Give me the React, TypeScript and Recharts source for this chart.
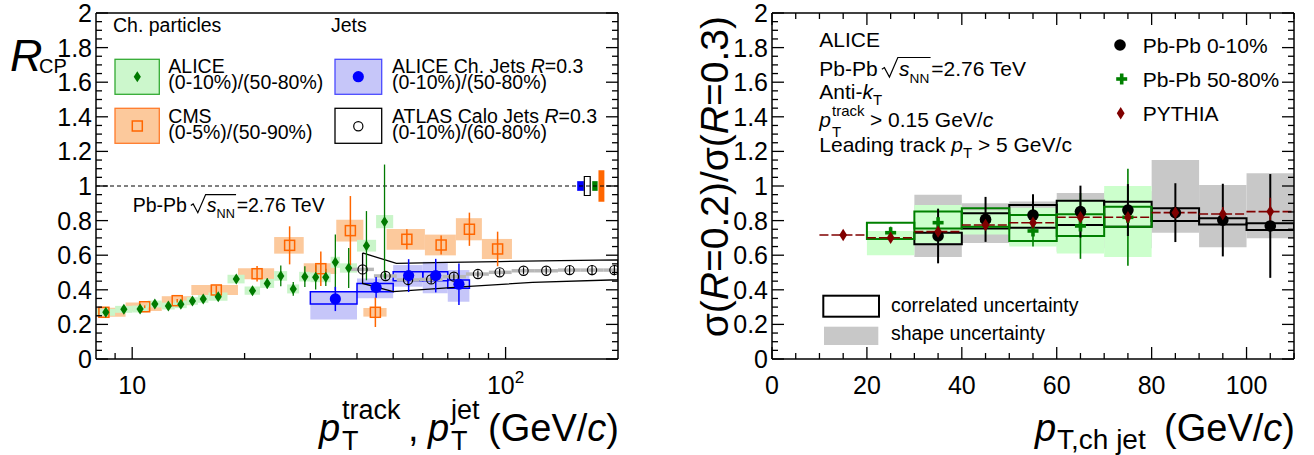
import React from 'react';
import {
  ComposedChart,
  Scatter,
  Line,
  XAxis,
  YAxis,
  ErrorBar,
  ReferenceArea,
  ReferenceLine,
} from 'recharts';

const FONT = "'Liberation Sans', Arial, Helvetica, sans-serif";

// ---------------- Left panel data ----------------
// ALICE charged particles RCP (0-10%)/(50-80%)
const aliceCh = [
  { x: 8.5, y: 0.27, ey: 0.005, xlo: 8, xhi: 9, sys: 0.02 },
  { x: 9.5, y: 0.287, ey: 0.005, xlo: 9, xhi: 10, sys: 0.02 },
  { x: 10.5, y: 0.289, ey: 0.006, xlo: 10, xhi: 11, sys: 0.02 },
  { x: 11.5, y: 0.318, ey: 0.007, xlo: 11, xhi: 12, sys: 0.02 },
  { x: 12.5, y: 0.306, ey: 0.008, xlo: 12, xhi: 13, sys: 0.02 },
  { x: 13.5, y: 0.316, ey: 0.008, xlo: 13, xhi: 14, sys: 0.022 },
  { x: 14.5, y: 0.335, ey: 0.01, xlo: 14, xhi: 15, sys: 0.022 },
  { x: 15.5, y: 0.347, ey: 0.01, xlo: 15, xhi: 16, sys: 0.022 },
  { x: 17, y: 0.36, ey: 0.012, xlo: 16, xhi: 18, sys: 0.024 },
  { x: 19, y: 0.462, ey: 0.015, xlo: 18, xhi: 20, sys: 0.025 },
  { x: 21, y: 0.395, ey: 0.015, xlo: 20, xhi: 22, sys: 0.024 },
  { x: 23, y: 0.437, ey: 0.03, xlo: 22, xhi: 24, sys: 0.026 },
  { x: 25, y: 0.48, ey: 0.06, xlo: 24, xhi: 26, sys: 0.028 },
  { x: 27, y: 0.405, ey: 0.04, xlo: 26, xhi: 28, sys: 0.026 },
  { x: 29, y: 0.476, ey: 0.06, xlo: 28, xhi: 30, sys: 0.028 },
  { x: 31, y: 0.472, ey: 0.07, xlo: 30, xhi: 32, sys: 0.028 },
  { x: 33, y: 0.472, ey: 0.05, xlo: 32, xhi: 34, sys: 0.028 },
  { x: 35, y: 0.559, ey: 0.16, xlo: 34, xhi: 36, sys: 0.032 },
  { x: 38, y: 0.526, ey: 0.115, xlo: 36, xhi: 40, sys: 0.027 },
  { x: 42.4, y: 0.655, ey: 0.2, xlo: 40, xhi: 45, sys: 0.034 },
  { x: 47.4, y: 0.794, ey: 0.33, xlo: 45, xhi: 50, sys: 0.038 },
];

// CMS charged particles RCP (0-5%)/(50-90%)
const cmsCh = [
  { x: 8.4, y: 0.27, ey: 0.008, xlo: 7.2, xhi: 9.6, sys: 0.026 },
  { x: 10.8, y: 0.302, ey: 0.008, xlo: 9.6, xhi: 12, sys: 0.025 },
  { x: 13.2, y: 0.337, ey: 0.01, xlo: 12, xhi: 14.4, sys: 0.026 },
  { x: 16.8, y: 0.399, ey: 0.025, xlo: 14.4, xhi: 19.2, sys: 0.029 },
  { x: 21.6, y: 0.493, ey: 0.045, xlo: 19.2, xhi: 24, sys: 0.032 },
  { x: 26.4, y: 0.657, ey: 0.11, xlo: 24, xhi: 28.8, sys: 0.048 },
  { x: 32, y: 0.522, ey: 0.1, xlo: 28.8, xhi: 35.2, sys: 0.031 },
  { x: 38.4, y: 0.742, ey: 0.2, xlo: 35.2, xhi: 41.6, sys: 0.063 },
  { x: 44.8, y: 0.27, ey: 0.085, xlo: 41.6, xhi: 48, sys: 0.025 },
  { x: 54.4, y: 0.692, ey: 0.058, xlo: 48, xhi: 60.8, sys: 0.06 },
  { x: 67.2, y: 0.659, ey: 0.055, xlo: 60.8, xhi: 73.6, sys: 0.06 },
  { x: 80, y: 0.75, ey: 0.096, xlo: 73.6, xhi: 86.4, sys: 0.064 },
  { x: 95.2, y: 0.636, ey: 0.1, xlo: 86.4, xhi: 104, sys: 0.058 },
];

// ALICE charged jets R=0.3 (0-10%)/(50-80%)
const aliceJets = [
  { x: 35, y: 0.347, ey: 0.07, xlo: 30, xhi: 40, cLo: 0.318, cHi: 0.389, sLo: 0.229, sHi: 0.389 },
  { x: 45, y: 0.414, ey: 0.06, xlo: 40, xhi: 50, cLo: 0.389, cHi: 0.437, sLo: 0.351, sHi: 0.466 },
  { x: 55, y: 0.482, ey: 0.095, xlo: 50, xhi: 60, cLo: 0.453, cHi: 0.505, sLo: 0.418, sHi: 0.543 },
  { x: 65, y: 0.482, ey: 0.097, xlo: 60, xhi: 70, cLo: 0.453, cHi: 0.505, sLo: 0.38, sHi: 0.562 },
  { x: 75, y: 0.432, ey: 0.12, xlo: 70, xhi: 80, cLo: 0.409, cHi: 0.457, sLo: 0.331, sHi: 0.514 },
];

// ATLAS calo jets R=0.3 (0-10%)/(60-80%)
const atlasJets = [
  { x: 41.4, y: 0.518, ey: 0.015, xlo: 38.4, xhi: 44.4, sys: 0.01 },
  { x: 47.7, y: 0.48, ey: 0.02, xlo: 44.4, xhi: 51.1, sys: 0.01 },
  { x: 54.8, y: 0.457, ey: 0.03, xlo: 51.1, xhi: 58.8, sys: 0.01 },
  { x: 63.2, y: 0.46, ey: 0.025, xlo: 58.8, xhi: 67.8, sys: 0.01 },
  { x: 72.7, y: 0.476, ey: 0.02, xlo: 67.8, xhi: 78.3, sys: 0.01 },
  { x: 84.3, y: 0.491, ey: 0.02, xlo: 78.3, xhi: 90.2, sys: 0.01 },
  { x: 96.4, y: 0.501, ey: 0.02, xlo: 90.2, xhi: 103.8, sys: 0.01 },
  { x: 111.7, y: 0.51, ey: 0.02, xlo: 103.8, xhi: 119.8, sys: 0.01 },
  { x: 128.5, y: 0.51, ey: 0.02, xlo: 119.8, xhi: 138.1, sys: 0.01 },
  { x: 148.4, y: 0.514, ey: 0.025, xlo: 138.1, xhi: 159, sys: 0.01 },
  { x: 170.4, y: 0.514, ey: 0.03, xlo: 159, xhi: 182.6, sys: 0.01 },
  { x: 195.6, y: 0.514, ey: 0.03, xlo: 182.6, xhi: 205, sys: 0.01 },
];

// ATLAS systematic envelope (upper edge left->right, lower edge right->left)
const atlasBand = [
  { x: 41.4, y: 0.613 },
  { x: 51, y: 0.553 },
  { x: 70, y: 0.558 },
  { x: 96, y: 0.563 },
  { x: 140, y: 0.569 },
  { x: 200, y: 0.573 },
  { x: 200, y: 0.458 },
  { x: 118, y: 0.443 },
  { x: 78, y: 0.418 },
  { x: 50, y: 0.389 },
  { x: 41.4, y: 0.437 },
  { x: 41.4, y: 0.613 },
];

// normalisation uncertainties at unity
const normBoxes = [
  { x1: 155.5, x2: 162, y1: 0.972, y2: 1.028 },
  { x1: 162.5, x2: 168.5, y1: 0.945, y2: 1.055 },
  { x1: 170.6, x2: 176.4, y1: 0.972, y2: 1.028 },
  { x1: 177.3, x2: 183.9, y1: 0.909, y2: 1.091 },
];
const normFill = ['#0000ff', '#ffffff', '#008000', '#ff6600'];
const normStroke = ['none', '#000000', 'none', 'none'];

const logTicks = [9, 10, 20, 30, 40, 50, 60, 70, 80, 90, 100];

// ---------------- Right panel data ----------------
const pythia = [
  { x: 15, y: 0.717, ey: 0.01 },
  { x: 25, y: 0.701, ey: 0.01 },
  { x: 35, y: 0.736, ey: 0.012 },
  { x: 45, y: 0.775, ey: 0.015 },
  { x: 55, y: 0.788, ey: 0.015 },
  { x: 65, y: 0.819, ey: 0.02 },
  { x: 75, y: 0.819, ey: 0.02 },
  { x: 85, y: 0.846, ey: 0.03 },
  { x: 95, y: 0.838, ey: 0.04 },
  { x: 105, y: 0.852, ey: 0.08 },
];
const central = [
  { x: 35, y: 0.711, ey: 0.158 },
  { x: 45, y: 0.807, ey: 0.13 },
  { x: 55, y: 0.832, ey: 0.12 },
  { x: 65, y: 0.852, ey: 0.15 },
  { x: 75, y: 0.861, ey: 0.15 },
  { x: 85, y: 0.846, ey: 0.17 },
  { x: 95, y: 0.803, ey: 0.21 },
  { x: 105, y: 0.769, ey: 0.3 },
];
const peripheral = [
  { x: 25, y: 0.73, ey: 0.035 },
  { x: 35, y: 0.788, ey: 0.04 },
  { x: 45, y: 0.8, ey: 0.04 },
  { x: 55, y: 0.74, ey: 0.09 },
  { x: 65, y: 0.769, ey: 0.19 },
  { x: 75, y: 0.819, ey: 0.28 },
];
const centralShape = [
  { x1: 30, x2: 40, lo: 0.59, hi: 0.95 },
  { x1: 40, x2: 50, lo: 0.67, hi: 0.9 },
  { x1: 50, x2: 60, lo: 0.66, hi: 0.91 },
  { x1: 60, x2: 70, lo: 0.62, hi: 0.96 },
  { x1: 70, x2: 80, lo: 0.64, hi: 0.97 },
  { x1: 80, x2: 90, lo: 0.73, hi: 1.15 },
  { x1: 90, x2: 100, lo: 0.646, hi: 1.006 },
  { x1: 100, x2: 110, lo: 0.698, hi: 1.073 },
];
const periphShape = [
  { x1: 20, x2: 30, lo: 0.6, hi: 0.74 },
  { x1: 30, x2: 40, lo: 0.67, hi: 0.89 },
  { x1: 40, x2: 50, lo: 0.72, hi: 0.86 },
  { x1: 50, x2: 60, lo: 0.65, hi: 0.875 },
  { x1: 60, x2: 70, lo: 0.61, hi: 0.92 },
  { x1: 70, x2: 80, lo: 0.59, hi: 1.0 },
];
const centralCorr = [
  { x1: 30, x2: 40, lo: 0.663, hi: 0.73 },
  { x1: 40, x2: 50, lo: 0.755, hi: 0.842 },
  { x1: 50, x2: 60, lo: 0.759, hi: 0.89 },
  { x1: 60, x2: 70, lo: 0.775, hi: 0.915 },
  { x1: 70, x2: 80, lo: 0.765, hi: 0.909 },
  { x1: 80, x2: 90, lo: 0.798, hi: 0.871 },
  { x1: 90, x2: 100, lo: 0.778, hi: 0.813 },
  { x1: 100, x2: 110, lo: 0.746, hi: 0.784 },
];
const periphCorr = [
  { x1: 20, x2: 30, lo: 0.694, hi: 0.788 },
  { x1: 30, x2: 40, lo: 0.755, hi: 0.852 },
  { x1: 40, x2: 50, lo: 0.765, hi: 0.871 },
  { x1: 50, x2: 60, lo: 0.682, hi: 0.832 },
  { x1: 60, x2: 70, lo: 0.711, hi: 0.836 },
  { x1: 70, x2: 80, lo: 0.765, hi: 0.88 },
];
const linTicks = [0, 5, 10, 15, 20, 25, 30, 35, 40, 45, 50, 55, 60, 65, 70, 75, 80, 85, 90, 95, 100, 105, 110];
const linLabels = [0, 20, 40, 60, 80, 100];

const yTicks = Array.from({ length: 41 }, (_, i) => Math.round(i * 5) / 100);

// ---------------- helpers ----------------
const isMult = (v: number, step: number) => {
  const r = v / step;
  return Math.abs(r - Math.round(r)) < 1e-6;
};
const fmtY = (v: number) => String(Math.round(v * 10) / 10);

const makeYTick = (side: 'left' | 'right', labels: boolean) => (props: any) => {
  const { x, y, payload } = props;
  const v = payload.value as number;
  const major = isMult(v, 0.2);
  const len = major ? 12 : 6;
  const dir = side === 'left' ? 1 : -1;
  return (
    <g>
      <line x1={x} y1={y} x2={x + dir * len} y2={y} stroke="#000" strokeWidth={1.3} />
      {labels && major && (
        <text x={x - 4} y={y} dy={9} textAnchor="end" fontSize={25} fontFamily={FONT} fill="#000">
          {fmtY(v)}
        </text>
      )}
    </g>
  );
};

const LogXTick = (props: any) => {
  const { x, y, payload } = props;
  const v = payload.value as number;
  const major = v === 10 || v === 100;
  return (
    <g>
      <line x1={x} y1={y} x2={x} y2={y - (major ? 12 : 6)} stroke="#000" strokeWidth={1.3} />
      {v === 10 && (
        <text x={x} y={y + 35} textAnchor="middle" fontSize={25} fontFamily={FONT} fill="#000">
          10
        </text>
      )}
      {v === 100 && (
        <text x={x} y={y + 35} textAnchor="middle" fontSize={25} fontFamily={FONT} fill="#000">
          10<tspan dy={-11} fontSize={17}>2</tspan>
        </text>
      )}
    </g>
  );
};

const makeLinXTick = (side: 'bottom' | 'top', labels: boolean) => (props: any) => {
  const { x, y, payload } = props;
  const v = payload.value as number;
  const major = isMult(v, 20);
  const len = major ? 12 : 6;
  const dir = side === 'bottom' ? -1 : 1;
  return (
    <g>
      <line x1={x} y1={y} x2={x} y2={y + dir * len} stroke="#000" strokeWidth={1.3} />
      {labels && linLabels.indexOf(v) >= 0 && (
        <text x={x} y={y + 35} textAnchor="middle" fontSize={25} fontFamily={FONT} fill="#000">
          {v}
        </text>
      )}
    </g>
  );
};

// marker shapes
const diamondPath = (cx: number, cy: number, w: number, h: number) =>
  `M${cx},${cy - h}L${cx + w},${cy}L${cx},${cy + h}L${cx - w},${cy}Z`;

const GreenDiamond = (p: any) => <path d={diamondPath(p.cx, p.cy, 3.6, 5.5)} fill="#007a00" />;
const OrangeSquare = (p: any) => (
  <rect x={p.cx - 5} y={p.cy - 5} width={10} height={10} fill="none" stroke="#ff6600" strokeWidth={1.5} />
);
const BlueCircle = (p: any) => <circle cx={p.cx} cy={p.cy} r={5.6} fill="#0000ff" />;
const OpenCircle = (p: any) => <circle cx={p.cx} cy={p.cy} r={4.6} fill="none" stroke="#000" strokeWidth={1.2} />;
const BlackDot = (p: any) => <circle cx={p.cx} cy={p.cy} r={5.8} fill="#000" />;
const GreenPlus = (p: any) => (
  <g>
    <line x1={p.cx - 5.5} y1={p.cy} x2={p.cx + 5.5} y2={p.cy} stroke="#008000" strokeWidth={3.6} />
    <line x1={p.cx} y1={p.cy - 5.5} x2={p.cx} y2={p.cy + 5.5} stroke="#008000" strokeWidth={3.6} />
  </g>
);
const RedDiamond = (p: any) => <path d={diamondPath(p.cx, p.cy, 3.9, 6.2)} fill="#800000" />;

const xErr = (d: any) => [d.x - d.xlo, d.xhi - d.x];

const frameLine = { stroke: '#000', strokeWidth: 1.5 };

const LeftChart = () => (
  <ComposedChart width={640} height={455} margin={{ top: 12, right: 21, bottom: 95, left: 95 }}>
    <XAxis
      xAxisId={0}
      dataKey="x"
      type="number"
      scale="log"
      domain={[8, 200]}
      allowDataOverflow
      ticks={logTicks}
      interval={0}
      tickSize={0}
      tickMargin={0}
      tickLine={false}
      axisLine={frameLine}
      tick={LogXTick}
      height={1}
    />
    <XAxis
      xAxisId="t"
      orientation="top"
      dataKey="x"
      type="number"
      scale="log"
      domain={[8, 200]}
      allowDataOverflow
      tick={false}
      tickLine={false}
      axisLine={frameLine}
      height={1}
    />
    <YAxis
      yAxisId={0}
      dataKey="y"
      type="number"
      domain={[0, 2]}
      allowDataOverflow
      ticks={yTicks}
      interval={0}
      tickSize={0}
      tickMargin={0}
      tickLine={false}
      axisLine={frameLine}
      tick={makeYTick('left', true)}
      width={1}
    />
    <YAxis
      yAxisId="r"
      orientation="right"
      type="number"
      domain={[0, 2]}
      allowDataOverflow
      ticks={yTicks}
      interval={0}
      tickSize={0}
      tickMargin={0}
      tickLine={false}
      axisLine={frameLine}
      tick={makeYTick('right', false)}
      width={1}
    />

    {cmsCh.map((d, i) => (
      <ReferenceArea key={'cb' + i} x1={d.xlo} x2={d.xhi} y1={d.y - d.sys} y2={d.y + d.sys}
        fill="#fcc99c" fillOpacity={1} stroke="none" ifOverflow="hidden" />
    ))}
    {aliceCh.map((d, i) => (
      <ReferenceArea key={'ab' + i} x1={d.xlo} x2={d.xhi} y1={d.y - d.sys} y2={d.y + d.sys}
        fill="#c9f5c9" fillOpacity={1} stroke="none" ifOverflow="hidden" />
    ))}
    {aliceJets.map((d, i) => (
      <ReferenceArea key={'js' + i} x1={d.xlo} x2={d.xhi} y1={d.sLo} y2={d.sHi}
        fill="#c6c6f9" fillOpacity={1} stroke="none" ifOverflow="hidden" />
    ))}
    {aliceJets.map((d, i) => (
      <ReferenceArea key={'jc' + i} x1={d.xlo} x2={d.xhi} y1={d.cLo} y2={d.cHi}
        fill="none" fillOpacity={0} stroke="#0000ff" strokeWidth={1.5} ifOverflow="hidden" />
    ))}
    {atlasJets.map((d, i) => (
      <ReferenceArea key={'as' + i} x1={d.xlo} x2={d.xhi} y1={d.y - d.sys} y2={d.y + d.sys}
        fill="#b8b8b8" fillOpacity={1} stroke="none" ifOverflow="hidden" />
    ))}
    {normBoxes.map((d, i) => (
      <ReferenceArea key={'nb' + i} x1={d.x1} x2={d.x2} y1={d.y1} y2={d.y2}
        fill={normFill[i]} fillOpacity={1} stroke={normStroke[i]} strokeWidth={1.2} ifOverflow="hidden" />
    ))}
    <ReferenceLine y={1} stroke="#000" strokeWidth={1} strokeDasharray="4 3" />

    <Line data={atlasBand} dataKey="y" type="linear" stroke="#000" strokeWidth={1.3} dot={false} activeDot={false} isAnimationActive={false} />

    <Scatter data={atlasJets} dataKey="y" shape={OpenCircle} isAnimationActive={false}>
      <ErrorBar dataKey="ey" direction="y" width={0} stroke="#000" strokeWidth={1.2} />
    </Scatter>
    <Scatter data={cmsCh} dataKey="y" shape={OrangeSquare} isAnimationActive={false}>
      <ErrorBar dataKey={xErr} direction="x" width={0} stroke="#ff6600" strokeWidth={1.5} />
      <ErrorBar dataKey="ey" direction="y" width={0} stroke="#ff6600" strokeWidth={1.5} />
    </Scatter>
    <Scatter data={aliceCh} dataKey="y" shape={GreenDiamond} isAnimationActive={false}>
      <ErrorBar dataKey={xErr} direction="x" width={0} stroke="#007a00" strokeWidth={1.2} strokeDasharray="3 3" />
      <ErrorBar dataKey="ey" direction="y" width={0} stroke="#007a00" strokeWidth={1.3} />
    </Scatter>
    <Scatter data={aliceJets} dataKey="y" shape={BlueCircle} isAnimationActive={false}>
      <ErrorBar dataKey="ey" direction="y" width={0} stroke="#0000ff" strokeWidth={1.5} />
    </Scatter>
  </ComposedChart>
);

const RightChart = () => (
  <ComposedChart width={674} height={455} margin={{ top: 12, right: 19, bottom: 95, left: 131 }}>
    <XAxis
      xAxisId={0}
      dataKey="x"
      type="number"
      domain={[0, 110]}
      allowDataOverflow
      ticks={linTicks}
      interval={0}
      tickSize={0}
      tickMargin={0}
      tickLine={false}
      axisLine={frameLine}
      tick={makeLinXTick('bottom', true)}
      height={1}
    />
    <XAxis
      xAxisId="t"
      orientation="top"
      dataKey="x"
      type="number"
      domain={[0, 110]}
      allowDataOverflow
      ticks={linTicks}
      interval={0}
      tickSize={0}
      tickMargin={0}
      tickLine={false}
      axisLine={frameLine}
      tick={makeLinXTick('top', false)}
      height={1}
    />
    <YAxis
      yAxisId={0}
      dataKey="y"
      type="number"
      domain={[0, 2]}
      allowDataOverflow
      ticks={yTicks}
      interval={0}
      tickSize={0}
      tickMargin={0}
      tickLine={false}
      axisLine={frameLine}
      tick={makeYTick('left', true)}
      width={1}
    />
    <YAxis
      yAxisId="r"
      orientation="right"
      type="number"
      domain={[0, 2]}
      allowDataOverflow
      ticks={yTicks}
      interval={0}
      tickSize={0}
      tickMargin={0}
      tickLine={false}
      axisLine={frameLine}
      tick={makeYTick('right', false)}
      width={1}
    />

    {centralShape.map((d, i) => (
      <ReferenceArea key={'gs' + i} x1={d.x1} x2={d.x2} y1={d.lo} y2={d.hi}
        fill="#c8c8c8" fillOpacity={1} stroke="none" ifOverflow="hidden" />
    ))}
    {periphShape.map((d, i) => (
      <ReferenceArea key={'ps' + i} x1={d.x1} x2={d.x2} y1={d.lo} y2={d.hi}
        fill="#ccffcc" fillOpacity={1} stroke="none" ifOverflow="hidden" />
    ))}
    {centralCorr.map((d, i) => (
      <ReferenceArea key={'cc' + i} x1={d.x1} x2={d.x2} y1={d.lo} y2={d.hi}
        fill="none" fillOpacity={0} stroke="#000" strokeWidth={2} ifOverflow="hidden" />
    ))}
    {periphCorr.map((d, i) => (
      <ReferenceArea key={'pc' + i} x1={d.x1} x2={d.x2} y1={d.lo} y2={d.hi}
        fill="none" fillOpacity={0} stroke="#008000" strokeWidth={2} ifOverflow="hidden" />
    ))}

    <Scatter data={peripheral} dataKey="y" shape={GreenPlus} isAnimationActive={false}>
      <ErrorBar dataKey="ey" direction="y" width={0} stroke="#008000" strokeWidth={1.6} />
    </Scatter>
    <Scatter data={central} dataKey="y" shape={BlackDot} isAnimationActive={false}>
      <ErrorBar dataKey="ey" direction="y" width={0} stroke="#000" strokeWidth={2} />
    </Scatter>
    <Scatter data={pythia} dataKey="y" shape={RedDiamond} isAnimationActive={false}>
      <ErrorBar dataKey={() => 5} direction="x" width={0} stroke="#800000" strokeWidth={1.6} strokeDasharray="9 3" />
      <ErrorBar dataKey="ey" direction="y" width={0} stroke="#800000" strokeWidth={1.6} />
    </Scatter>
  </ComposedChart>
);

const PbPb = ({ x, y, fs }: { x: number; y: number; fs: number }) => {
  const e = fs;
  const rx = x + 2.98 * e;
  return (
    <g fontFamily={FONT} fill="#000">
      <text x={x} y={y} fontSize={fs}>Pb-Pb</text>
      <path
        d={`M${rx},${y - 0.32 * e} L${rx + 0.12 * e},${y - 0.4 * e} L${rx + 0.36 * e},${y + 0.05 * e} L${rx + 0.76 * e},${y - 0.88 * e} L${x + 5.3 * e},${y - 0.88 * e}`}
        fill="none"
        stroke="#000"
        strokeWidth={1.2}
      />
      <text x={x + 3.8 * e} y={y} fontSize={fs} fontStyle="italic">s</text>
      <text x={x + 4.3 * e} y={y + 0.32 * e} fontSize={0.65 * fs}>NN</text>
      <text x={x + 5.33 * e} y={y} fontSize={fs}>=2.76 TeV</text>
    </g>
  );
};

const Overlay = () => (
  <svg width={1314} height={455} style={{ position: 'absolute', left: 0, top: 0, pointerEvents: 'none' }}>
    <g fontFamily={FONT} fill="#000">
      {/* ---- left panel ---- */}
      <text x={10} y={71} fontSize={45} fontStyle="italic">R</text>
      <text x={39} y={73} fontSize={20}>CP</text>

      <text x={113} y={32} fontSize={19.5}>Ch. particles</text>
      <text x={331} y={32} fontSize={19.5}>Jets</text>

      <rect x={115} y={59.3} width={44.3} height={35} fill="#ccf7cc" stroke="#33aa33" strokeWidth={1.3} />
      <path d={diamondPath(137.3, 76.7, 3.6, 5.5)} fill="#007a00" />
      <text x={168.3} y={72.7} fontSize={19.5}>ALICE</text>
      <text x={168.3} y={89.3} fontSize={19.5}>(0-10%)/(50-80%)</text>

      <rect x={115} y={108.3} width={44.3} height={35} fill="#fcc99c" stroke="#ff7a2a" strokeWidth={1.3} />
      <rect x={132.3} y={121} width={10} height={10} fill="none" stroke="#ff6600" strokeWidth={1.5} />
      <text x={168.3} y={122.7} fontSize={19.5}>CMS</text>
      <text x={168.3} y={139.3} fontSize={19.5}>(0-5%)/(50-90%)</text>

      <rect x={335} y={59.3} width={46.7} height={35} fill="#c6c6f9" stroke="#4a4aff" strokeWidth={1.3} />
      <circle cx={358.3} cy={76.7} r={5.6} fill="#0000ff" />
      <text x={392} y={72.7} fontSize={19.5}>
        ALICE Ch. Jets <tspan fontStyle="italic">R</tspan>=0.3
      </text>
      <text x={392} y={89.3} fontSize={19.5}>(0-10%)/(50-80%)</text>

      <rect x={335} y={108.3} width={46.7} height={35} fill="#fff" stroke="#000" strokeWidth={1.3} />
      <circle cx={358.3} cy={126.3} r={4.6} fill="none" stroke="#000" strokeWidth={1.2} />
      <text x={392} y={122.7} fontSize={19.5}>
        ATLAS Calo Jets <tspan fontStyle="italic">R</tspan>=0.3
      </text>
      <text x={392} y={139.3} fontSize={19.5}>(0-10%)/(60-80%)</text>

      <PbPb x={132.7} y={211.7} fs={19.5} />

      <text x={319} y={441} fontSize={38} fontStyle="italic">p</text>
      <text x={342} y={450} fontSize={27}>T</text>
      <text x={342} y={419} fontSize={27}>track</text>
      <text x={408} y={441} fontSize={38}>,</text>
      <text x={428} y={441} fontSize={38} fontStyle="italic">p</text>
      <text x={451} y={450} fontSize={27}>T</text>
      <text x={451} y={419} fontSize={27}>jet</text>
      <text x={619} y={441} fontSize={38} textAnchor="end">
        (GeV/<tspan fontStyle="italic">c</tspan>)
      </text>

      {/* ---- right panel ---- */}
      <text transform="translate(728,16) rotate(-90)" textAnchor="end" fontSize={39}>
        σ(<tspan fontStyle="italic">R</tspan>=0.2)/σ(<tspan fontStyle="italic">R</tspan>=0.3)
      </text>

      <text x={819.3} y={47.3} fontSize={21}>ALICE</text>
      <PbPb x={819.3} y={76} fs={21} />
      <text x={819.3} y={99.3} fontSize={21}>
        Anti-<tspan fontStyle="italic">k</tspan>
        <tspan dy={6} fontSize={15}>T</tspan>
      </text>
      <text x={819.3} y={126.7} fontSize={21} fontStyle="italic">p</text>
      <text x={832} y={137} fontSize={15}>T</text>
      <text x={832} y={116} fontSize={15}>track</text>
      <text x={870} y={126.7} fontSize={21}>
        &gt; 0.15 GeV/<tspan fontStyle="italic">c</tspan>
      </text>
      <text x={819.3} y={151.7} fontSize={21}>
        Leading track <tspan fontStyle="italic">p</tspan>
        <tspan dy={6} fontSize={15}>T</tspan>
        <tspan dy={-6}> &gt; 5 GeV/c</tspan>
      </text>

      <circle cx={1120} cy={45} r={5.8} fill="#000" />
      <text x={1142.7} y={53.3} fontSize={21}>Pb-Pb 0-10%</text>
      <line x1={1116.2} y1={79} x2={1127.2} y2={79} stroke="#008000" strokeWidth={3.6} />
      <line x1={1121.7} y1={73.5} x2={1121.7} y2={84.5} stroke="#008000" strokeWidth={3.6} />
      <text x={1142.7} y={87.3} fontSize={21}>Pb-Pb 50-80%</text>
      <path d={diamondPath(1120.7, 113.3, 3.9, 6.2)} fill="#800000" />
      <text x={1142.7} y={120.7} fontSize={21}>PYTHIA</text>

      <rect x={823.3} y={295.7} width={55.7} height={21} fill="none" stroke="#000" strokeWidth={2} />
      <text x={891} y={311.7} fontSize={19.5}>correlated uncertainty</text>
      <rect x={824} y={326.7} width={54.3} height={18.3} fill="#c8c8c8" />
      <text x={891} y={340} fontSize={19.5}>shape uncertainty</text>

      <text x={1035} y={441} fontSize={38} fontStyle="italic">p</text>
      <text x={1057} y={449} fontSize={28}>T,ch jet</text>
      <text x={1295} y={441} fontSize={38} textAnchor="end">
        (GeV/<tspan fontStyle="italic">c</tspan>)
      </text>
    </g>
  </svg>
);

export default function App() {
  return (
    <div style={{ position: 'absolute', left: 0, top: 0, width: 1314, height: 455, background: '#fff' }}>
      <div style={{ position: 'absolute', left: 0, top: 0 }}>
        <LeftChart />
      </div>
      <div style={{ position: 'absolute', left: 640, top: 0 }}>
        <RightChart />
      </div>
      <Overlay />
    </div>
  );
}
